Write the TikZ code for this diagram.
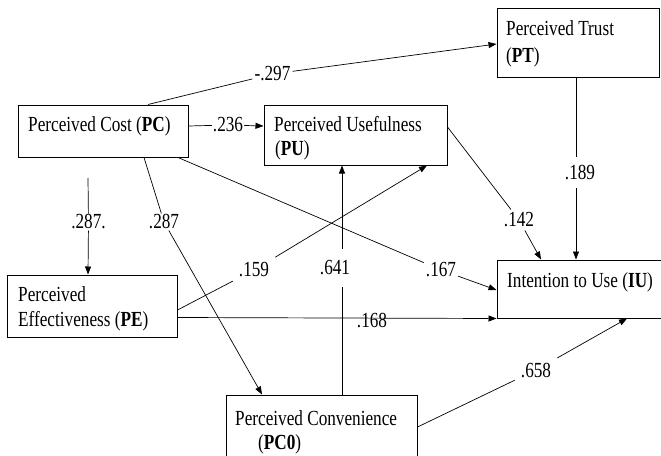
\documentclass[tikz,border=0pt]{standalone}
\usepackage{graphicx}
\usepackage{fontspec}
\setmainfont{Liberation Serif}
\usetikzlibrary{arrows.meta}
\newcommand{\tallt}[1]{\scalebox{1}[1.25]{#1}}
\begin{document}
\begin{tikzpicture}[x=1pt,y=-1pt,
  box/.style={draw, line width=1pt, inner sep=0pt},
  txt/.style={anchor=base west, inner sep=0pt, font=\fontsize{17.2}{20}\selectfont},
  lbl/.style={inner sep=1pt, font=\fontsize{17.2}{20}\selectfont},
  lblw/.style={lbl, fill=white},
  edge/.style={line width=0.7pt},
  arr/.style={edge, -{Triangle[length=8pt,width=6pt]}}]
\useasboundingbox (0,0) rectangle (661,455);

% boxes
\node[box, minimum width=170pt, minimum height=52pt] (PC) at (103,131) {};
\node[box, minimum width=183pt, minimum height=60pt] (PU) at (355.5,135) {};
\node[box, minimum width=162pt, minimum height=69pt] (PT) at (578,42.5) {};
\node[box, minimum width=170pt, minimum height=62pt] (PE) at (92,306) {};
\node[box, minimum width=191pt, minimum height=80pt] (PCO) at (321.5,435) {};
\node[box, minimum width=168pt, minimum height=58pt] (IU) at (581,289) {};

% box texts
\node[txt] (PCt) at (28,131.5) {\tallt{Perceived Cost (\textbf{PC})}};
\node[txt] (PUt1) at (274,131.5) {\tallt{Perceived Usefulness}};
\node[txt] (PUt2) at (275,155.5) {\tallt{(\textbf{PU})}};
\node[txt] (PTt1) at (506,35.5) {\tallt{Perceived Trust}};
\node[txt] (PTt2) at (506,62) {\tallt{(\textbf{PT})}};
\node[txt] (PEt1) at (18,301.5) {\tallt{Perceived}};
\node[txt] (PEt2) at (18,326.5) {\tallt{Effectiveness (\textbf{PE})}};
\node[txt] (PCOt1) at (235,425) {\tallt{Perceived Convenience}};
\node[txt] (PCOt2) at (258,449) {\tallt{(\textbf{PC0})}};
\node[txt] (IUt) at (507,287) {\tallt{Intention to Use (\textbf{IU})}};

% labels placed on paths
\node[lbl, inner xsep=2pt] (l297) at (272.5,74) {\tallt{-.297}};
\node[lbl, inner xsep=1pt] (l236) at (228,125) {\tallt{.236}};
\node[lbl, inner ysep=1pt] (l287a) at (88.5,222) {\tallt{.287.}};
\node[lbl, inner ysep=1pt] (l287b) at (164,222) {\tallt{.287}};
\node[lbl, inner sep=2pt] (l167) at (441,270) {\tallt{.167}};
\node[lbl, inner sep=6pt] (l159) at (254,270) {\tallt{.159}};
\node[lbl, inner sep=6pt] (l658) at (536,370) {\tallt{.658}};
\node[lbl, inner sep=3pt] (l142) at (519,220) {\tallt{.142}};
\coordinate (pcpe) at (88,178);

% connectors
\draw[arr] ([xshift=45pt]PC.north) -- (l297) -- ([yshift=-1.5pt]PT.west);
\draw[arr] ([yshift=5pt]PC.east) -- (l236) -- ([yshift=9pt]PU.west);
\draw[arr] (pcpe) -- (l287a) -- (PE.north -| pcpe);
\draw[arr] ([xshift=41pt]PC.south) -- (l287b) -- ([xshift=-59.5pt]PCO.north);
\draw[arr] ([xshift=75pt]PC.south) -- (l167) -- ([yshift=-1pt]IU.west);
\draw[arr] ([yshift=-4pt]PE.east) -- (l159) -- ([xshift=71.5pt]PU.south);
\draw[arr] ([xshift=20.5pt]PCO.north) -- ([xshift=-13.5pt]PU.south);
\draw[arr] ([yshift=-11.5pt]PE.east) -- (IU.south west);
\draw[arr] ([yshift=8pt]PCO.east) -- (l658) -- ([xshift=46pt]IU.south);
\draw[arr] ([yshift=8pt]PU.east) -- (l142) -- ([xshift=-40pt]IU.north);
\draw[arr] ([xshift=-2pt]PT.south) -- ([xshift=-5pt]IU.north);

% labels drawn over straight lines
\node[lblw, inner xsep=1pt, minimum height=38pt] (l641) at (335,268) {\tallt{.641}};
\node[lblw, inner xsep=1pt, minimum height=31pt] (l189) at (580,172.5) {\tallt{.189}};
\node[lbl] (l168) at (372,320) {\tallt{.168}};
\end{tikzpicture}
\end{document}
